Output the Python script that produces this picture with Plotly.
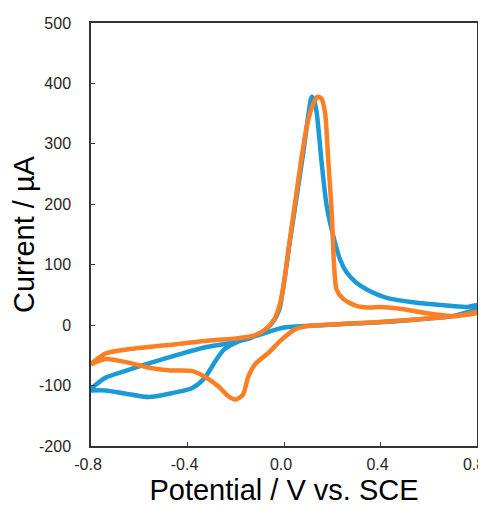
import plotly.graph_objects as go

# cyclic voltammograms, scan starts at -0.8 V going positive, then back
blue_v = [-0.80, -0.74, -0.66, -0.56, -0.47, -0.38, -0.33, -0.29, -0.25, -0.20,
          -0.13, -0.08, -0.05, -0.02, 0.00, 0.025, 0.053, 0.08, 0.10, 0.115,
          0.125, 0.136, 0.156, 0.177, 0.204, 0.232, 0.26, 0.30, 0.343, 0.426,
          0.55, 0.69, 0.76, 0.80,
          0.80, 0.70, 0.60, 0.45, 0.30, 0.15, 0.07, 0.00, -0.08, -0.20,
          -0.33, -0.44, -0.55, -0.66, -0.74, -0.80]
blue_i = [-108, -108, -113, -119, -113, -104, -88, -63, -41, -29,
          -20, -8, 3, 25, 70, 140, 214, 286, 345, 378,
          372, 350, 269, 197, 148, 109, 87, 70, 59, 45,
          37, 32, 30, 33,
          28, 15, 11, 6, 3, 0, -2, -4, -13, -28,
          -37, -49, -62, -76, -87, -105]

orange_v = [-0.80, -0.74, -0.645, -0.48, -0.30, -0.20, -0.13, -0.08, -0.04, -0.017,
            0.00, 0.02, 0.045, 0.07, 0.095, 0.12, 0.14, 0.155, 0.170, 0.184,
            0.198, 0.207, 0.218, 0.246, 0.30, 0.357, 0.40, 0.48, 0.62, 0.72, 0.80,
            0.80, 0.62, 0.34, 0.15, 0.09, 0.046, -0.01, -0.065, -0.12, -0.148,
            -0.17, -0.20, -0.23, -0.27, -0.33, -0.38, -0.47, -0.55, -0.645, -0.74, -0.80]
orange_i = [-64, -47, -40, -33, -25, -22, -18, -8, 10, 35,
            70, 130, 200, 270, 330, 365, 378, 375, 352, 269,
            186, 103, 59, 43, 32, 29, 30, 27, 18, 15, 22,
            20, 12, 4, 0, -2, -7, -24, -46, -65, -85,
            -115, -123, -118, -102, -85, -76, -75, -71, -62, -56, -65]

x_ticks = [-0.8, -0.4, 0.0, 0.4, 0.8]
x_tick_text = ['-0.8', '-0.4', '0.0', '0.4', '0.8']
y_ticks = [-200, -100, 0, 100, 200, 300, 400, 500]
y_tick_text = ['-200', '-100', '0', '100', '200', '300', '400', '500']

fig = go.Figure()
fig.add_trace(go.Scatter(x=blue_v, y=blue_i, mode='lines',
                         line=dict(color='#1b9ad8', width=4.5, shape='spline', smoothing=0.7)))
fig.add_trace(go.Scatter(x=orange_v, y=orange_i, mode='lines',
                         line=dict(color='#fd7f23', width=4.5, shape='spline', smoothing=0.7)))

font_name = 'Liberation Sans, Arial'
axis_common = dict(showline=True, linecolor='#333333', linewidth=1.5, mirror=True,
                   ticks='inside', ticklen=4, tickcolor='#333333', tickwidth=1.2,
                   showgrid=False, zeroline=False, automargin=False,
                   ticklabeloverflow='allow',
                   tickfont=dict(family=font_name, size=16, color='#262626'))

# labels sit a little left of their ticks in the original, keeps 0.8 on screen
fig.update_xaxes(range=[-0.8, 0.8], tickvals=x_ticks, ticktext=x_tick_text,
                 ticklabelstandoff=3, ticklabelshift=-3,
                 title=dict(text='Potential / V vs. SCE', standoff=8,
                            font=dict(family=font_name, size=29, color='black')),
                 **axis_common)
fig.update_yaxes(range=[-200, 500], tickvals=y_ticks, ticktext=y_tick_text,
                 ticklabelstandoff=15,
                 title=dict(text='Current / µA', standoff=2,
                            font=dict(family=font_name, size=29, color='black')),
                 **axis_common)

# page body adds an 8px offset, so the figure is 8px smaller than the window
fig.update_layout(width=478, height=499, showlegend=False,
                  plot_bgcolor='white', paper_bgcolor='white',
                  margin=dict(l=83, r=9, t=15, b=61))

fig.write_html('out.html')
